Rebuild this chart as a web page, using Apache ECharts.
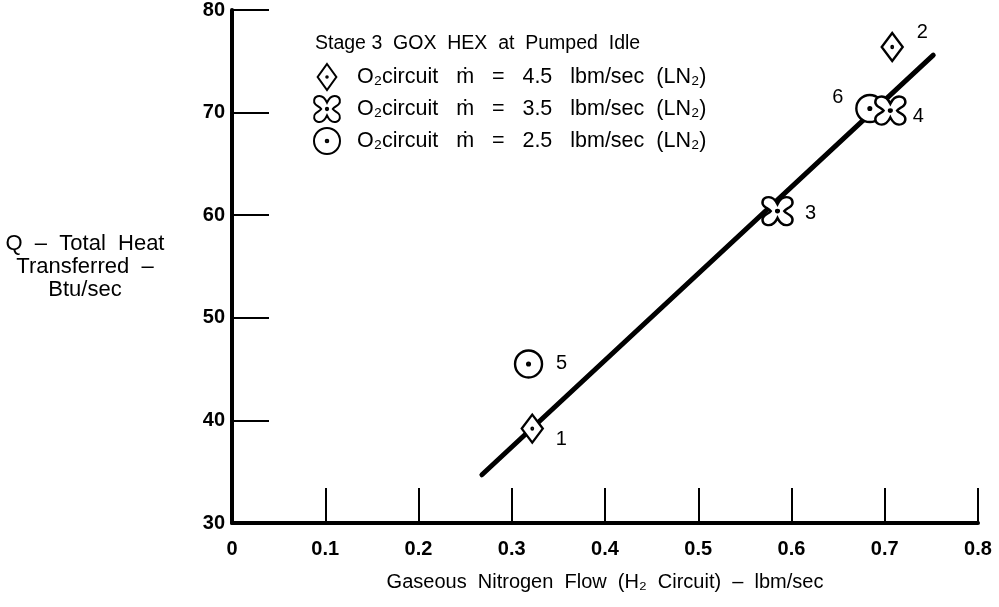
<!DOCTYPE html>
<html>
<head>
<meta charset="utf-8">
<script src="https://cdn.jsdelivr.net/npm/echarts@6/dist/echarts.min.js"></script>
<style>
html,body{margin:0;padding:0;background:#fff;}
#chart{width:999px;height:607px;}
</style>
</head>
<body>
<div id="chart"></div>
<script>
// ---- data ----
const xTicks = [0, 0.1, 0.2, 0.3, 0.4, 0.5, 0.6, 0.7, 0.8];
const yTicks = [30, 40, 50, 60, 70, 80];
const seriesNames = [
  'O₂circuit   ṁ   =   4.5   lbm/sec  (LN₂)',
  'O₂circuit   ṁ   =   3.5   lbm/sec  (LN₂)',
  'O₂circuit   ṁ   =   2.5   lbm/sec  (LN₂)'
];
const flow45 = [[0.322, 39.2], [0.708, 76.4]];
const flow45Ids = ['1', '2'];
const flow35 = [[0.585, 60.4], [0.706, 70.2]];
const flow35Ids = ['3', '4'];
const flow25 = [[0.318, 45.5], [0.684, 70.4]];
const flow25Ids = ['5', '6'];
const fitLine = [[0.268, 34.7], [0.752, 75.6]];

// ---- styling ----
const FONT = '"Liberation Sans", Arial, Helvetica, sans-serif';
const DIAMOND = 'path://M36,0 L72,50 L36,100 L0,50 Z M39,50 A3,3 0 1,1 33,50 A3,3 0 1,1 39,50 Z';
const CROSS = 'path://M50,28 C42,10 30,2 17,6 C4,10 2,26 10,34 C16,40 26,44 30,50 C26,56 16,60 10,66 C2,74 4,90 17,94 C30,98 42,90 50,72 C58,90 70,98 83,94 C96,90 98,74 90,66 C84,60 74,56 70,50 C74,44 84,40 90,34 C98,26 96,10 83,6 C70,2 58,10 50,28 Z M54,50 A4,4 0 1,1 46,50 A4,4 0 1,1 54,50 Z';
const CIRCLE = 'path://M100,50 A50,50 0 1,1 0,50 A50,50 0 1,1 100,50 Z M55,50 A5,5 0 1,1 45,50 A5,5 0 1,1 55,50 Z';
const labelOffsets = {
  '1': [29, 11], '2': [30, -14], '3': [33, 2], '4': [28, 6], '5': [33, 0], '6': [-32, -11]
};

function mkPoints(vals, ids) {
  return vals.map((v, i) => ({
    value: v,
    name: ids[i],
    label: { offset: labelOffsets[ids[i]] }
  }));
}
const ptLabel = {
  show: true, position: 'inside', formatter: '{b}',
  color: '#000', fontFamily: FONT, fontSize: 20
};
const ptStyle = { color: '#fff', borderColor: '#000', borderWidth: 2.4, opacity: 1 };
const txt = { fontFamily: FONT, fontSize: 20, color: '#000', fontWeight: 'normal' };

const chart = echarts.init(document.getElementById('chart'));
chart.setOption({
  animation: false,
  backgroundColor: '#fff',
  grid: { left: 232, right: 21, top: 10, bottom: 84, containLabel: false },
  title: {
    text: 'Stage 3  GOX  HEX  at  Pumped  Idle',
    left: 310, top: 29,
    textStyle: Object.assign({}, txt, { fontSize: 19.5 })
  },
  legend: {
    data: seriesNames,
    orient: 'vertical',
    left: 308, top: 58,
    itemWidth: 50, itemHeight: 26, itemGap: 4,
    symbolKeepAspect: true,
    textStyle: Object.assign({}, txt, { fontSize: 21.5 }),
    selectedMode: false
  },
  xAxis: {
    type: 'value', min: 0, max: 0.8, interval: 0.1,
    name: 'Gaseous  Nitrogen  Flow  (H₂  Circuit)  –  lbm/sec',
    nameLocation: 'middle', nameGap: 49,
    nameTextStyle: txt,
    axisLine: { lineStyle: { color: '#000', width: 4 } },
    axisTick: { inside: true, length: 35, lineStyle: { color: '#000', width: 2 } },
    axisLabel: Object.assign({}, txt, {
      margin: 16, fontWeight: 'bold',
      formatter: v => xTicks.includes(+v.toFixed(1)) ? String(+v.toFixed(1)) : ''
    }),
    splitLine: { show: false }
  },
  yAxis: {
    type: 'value', min: 30, max: 80, interval: 10,
    name: 'Q  –  Total  Heat\nTransferred  –\nBtu/sec',
    nameLocation: 'middle', nameRotate: 0, nameGap: 147,
    nameTextStyle: Object.assign({}, txt, { fontSize: 22, align: 'center', lineHeight: 23 }),
    axisLine: { lineStyle: { color: '#000', width: 4 } },
    axisTick: { inside: true, length: 37, lineStyle: { color: '#000', width: 2 } },
    axisLabel: Object.assign({}, txt, {
      margin: 7, fontWeight: 'bold',
      formatter: v => yTicks.includes(v) ? String(v) : ''
    }),
    splitLine: { show: false }
  },
  series: [
    {
      type: 'line', data: fitLine, symbol: 'none', silent: true,
      lineStyle: { color: '#000', width: 5, cap: 'round' }, z: 1
    },
    {
      name: seriesNames[2], type: 'scatter', symbol: CIRCLE, symbolSize: 27,
      data: mkPoints(flow25, flow25Ids), itemStyle: ptStyle, label: ptLabel, z: 3
    },
    {
      name: seriesNames[0], type: 'scatter', symbol: DIAMOND, symbolSize: [21, 28],
      data: mkPoints(flow45, flow45Ids), itemStyle: ptStyle, label: ptLabel, z: 3
    },
    {
      name: seriesNames[1], type: 'scatter', symbol: CROSS, symbolSize: [30, 28],
      data: mkPoints(flow35, flow35Ids), itemStyle: ptStyle, label: ptLabel, z: 3
    }
  ]
});
</script>
</body>
</html>
